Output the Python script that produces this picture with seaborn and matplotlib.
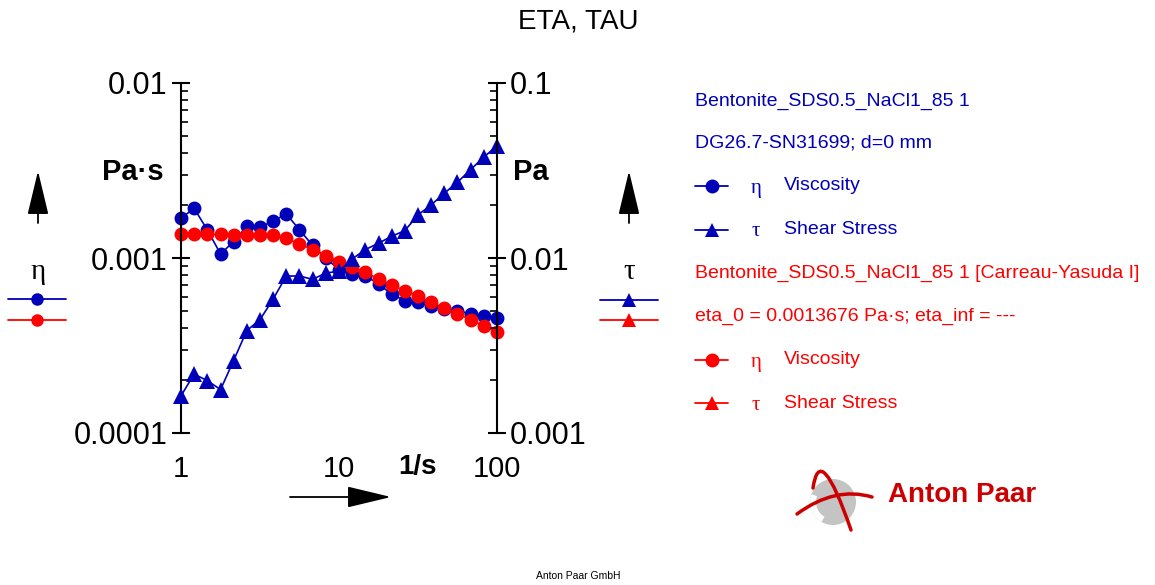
import numpy as np
import pandas as pd
import seaborn as sns
import matplotlib
matplotlib.use("Agg")
import matplotlib.pyplot as plt
from matplotlib import ticker
from matplotlib.path import Path
from matplotlib.patches import PathPatch, Circle, Wedge

# ---- measured data -------------------------------------------------------
shear_rate = [1.0, 1.21, 1.47, 1.78, 2.15, 2.61, 3.16, 3.83, 4.64, 5.62,
              6.81, 8.25, 10.0, 12.1, 14.7, 17.8, 21.5, 26.1, 31.6, 38.3,
              46.4, 56.2, 68.1, 82.5, 100.0]

eta_measured = [0.001686, 0.001923, 0.001445, 0.001054, 0.001242, 0.001517,
                0.001497, 0.001627, 0.001784, 0.001451, 0.001179, 0.001000,
                0.000858, 0.000810, 0.000792, 0.000710, 0.000623, 0.000570,
                0.000558, 0.000534, 0.000511, 0.000500, 0.000479, 0.000468,
                0.000454]

tau_measured = [0.00163, 0.00217, 0.00199, 0.00177, 0.00259, 0.00385,
                0.00444, 0.00583, 0.00789, 0.00789, 0.00755, 0.00821,
                0.00840, 0.00987, 0.01118, 0.01215, 0.01330, 0.01433,
                0.01762, 0.02010, 0.02344, 0.02710, 0.03200, 0.03770,
                0.04380]

# Carreau-Yasuda fit of the viscosity
eta_fit = [0.001367, 0.001366, 0.001365, 0.001363, 0.001360, 0.001357,
           0.001353, 0.001345, 0.001296, 0.001202, 0.001115, 0.001030,
           0.000952, 0.000885, 0.000829, 0.000759, 0.000704, 0.000650,
           0.000604, 0.000558, 0.000516, 0.000479, 0.000444, 0.000410,
           0.000376]

x_ticks = [1, 10, 100]
x_tick_labels = ["1", "10", "100"]
eta_ticks = [1e-4, 1e-3, 1e-2]
eta_tick_labels = ["0.0001", "0.001", "0.01"]
tau_ticks = [1e-3, 1e-2, 1e-1]
tau_tick_labels = ["0.001", "0.01", "0.1"]

legend_rows = [
    ("Bentonite_SDS0.5_NaCl1_85 1", None, None),
    ("DG26.7-SN31699; d=0 mm", None, None),
    ("Viscosity", "o", "η"),
    ("Shear Stress", "^", "τ"),
    ("Bentonite_SDS0.5_NaCl1_85 1 [Carreau-Yasuda I]", None, None),
    ("eta_0 = 0.0013676 Pa·s; eta_inf = ---", None, None),
    ("Viscosity", "o", "η"),
    ("Shear Stress", "^", "τ"),
]

BLUE = "#0000B8"
RED = "#FF0000"

df = pd.DataFrame({"rate": shear_rate, "eta": eta_measured,
                   "tau": tau_measured, "fit": eta_fit})

# ---- style ---------------------------------------------------------------
sns.set_style("white")
plt.rcParams["font.family"] = ["Liberation Sans", "DejaVu Sans"]
plt.rcParams["axes.linewidth"] = 1.5
for k in ("text.color", "xtick.color", "ytick.color", "axes.labelcolor",
          "axes.edgecolor"):
    plt.rcParams[k] = "black"

W, H = 1155, 585
fig = plt.figure(figsize=(W / 100, H / 100), dpi=100)

def fx(px):
    return px / W

def fy(py):
    return 1 - py / H

x0, x1, y0, y1 = 181, 497, 83, 433
ax = fig.add_axes([fx(x0), fy(y1), fx(x1 - x0), (y1 - y0) / H])
ax.set_xscale("log")
ax.set_yscale("log")
ax.patch.set_alpha(0)

mk = dict(linewidth=1.2, markeredgewidth=0, clip_on=False)
sns.lineplot(data=df, x="rate", y="eta", ax=ax, color=BLUE, marker="o",
             markersize=10, **mk)
sns.lineplot(data=df, x="rate", y="fit", ax=ax, color=RED, marker="o",
             markersize=10, **mk)

ax2 = ax.twinx()
ax2.set_yscale("log")
sns.lineplot(data=df, x="rate", y="tau", ax=ax2, color=BLUE, marker="^",
             markersize=11, **mk)

ax.set_xlim(1, 100)
ax.set_ylim(1e-4, 1e-2)
ax2.set_ylim(1e-3, 1e-1)

for a in (ax, ax2):
    a.set_xlabel("")
    a.set_ylabel("")
    a.spines["top"].set_visible(False)
    a.spines["bottom"].set_visible(False)
    a.grid(False)
ax.spines["right"].set_visible(False)
ax2.spines["left"].set_visible(False)

ax.set_xticks(x_ticks)
ax.set_xticklabels(x_tick_labels)
ax.xaxis.set_minor_formatter(ticker.NullFormatter())
ax.tick_params(axis="x", which="both", length=0, pad=16, labelsize=21)

ax.set_yticks(eta_ticks)
ax.set_yticklabels(eta_tick_labels)
ax2.set_yticks(tau_ticks)
ax2.set_yticklabels(tau_tick_labels)
for a in (ax, ax2):
    a.yaxis.set_minor_locator(ticker.LogLocator(base=10, subs=np.arange(2, 10)))
    a.yaxis.set_minor_formatter(ticker.NullFormatter())
    a.tick_params(axis="y", which="major", direction="inout", length=13,
                  width=1.5, labelsize=22, pad=3)
    a.tick_params(axis="y", which="minor", direction="in", length=5,
                  width=1.2)

# ---- overlay in pixel coordinates for annotations ------------------------
deco = fig.add_axes([0, 0, 1, 1])
deco.set_xlim(0, W)
deco.set_ylim(H, 0)
deco.axis("off")
deco.patch.set_alpha(0)

deco.text(578, 22, "ETA, TAU", ha="center", va="center", fontsize=20)
deco.text(133, 172, "Pa·s", ha="center", va="center", fontsize=21,
          fontweight="bold")
deco.text(531, 172, "Pa", ha="center", va="center", fontsize=21,
          fontweight="bold")
deco.text(418, 467, "1/s", ha="center", va="center", fontsize=20,
          fontweight="bold")
deco.text(578, 576, "Anton Paar GmbH", ha="center", va="center", fontsize=7.5)

arrow = dict(arrowstyle="-|>,head_length=1.25,head_width=0.3", color="black",
             lw=1.3, mutation_scale=22, shrinkA=0, shrinkB=0)
deco.annotate("", xy=(391, 497), xytext=(290, 497), arrowprops=arrow)
deco.annotate("", xy=(38, 171), xytext=(38, 223), arrowprops=arrow)
deco.annotate("", xy=(629, 171), xytext=(629, 223), arrowprops=arrow)

deco.text(38, 272, "η", ha="center", va="center", fontsize=21,
          family=["Liberation Serif", "DejaVu Serif"])
deco.text(629, 272, "τ", ha="center", va="center", fontsize=21,
          family=["Liberation Serif", "DejaVu Serif"])


def key(xa, xb, y, color, marker, size=9):
    deco.plot([xa, (xa + xb) / 2, xb], [y, y, y], color=color, lw=1.3,
              marker=marker, markevery=[1], markersize=size,
              markeredgewidth=0)


key(8, 66, 299, BLUE, "o")
key(8, 66, 320, RED, "o")
key(600, 658, 300, BLUE, "^", size=10)
key(600, 658, 320, RED, "^", size=10)

# legend listing on the right
row_y = [101, 143, 186, 230, 273, 316, 360, 403]
for i, ((label, marker, sym), yy) in enumerate(zip(legend_rows, row_y)):
    color = BLUE if i < 4 else RED
    if marker is None:
        deco.text(695, yy, label, ha="left", va="center", fontsize=14,
                  color=color)
    else:
        key(695, 728, yy, color, marker, size=10)
        deco.text(756, yy + 2, sym, ha="center", va="center", fontsize=15,
                  color=color, family=["Liberation Serif", "DejaVu Serif"])
        deco.text(784, yy, label, ha="left", va="center", fontsize=14,
                  color=color)

# company logo
LOGO_RED = "#CC0000"
deco.add_patch(Circle((833, 502), 23, facecolor="#C4C4C4", edgecolor="none"))
deco.add_patch(Wedge((833, 502), 23, 120, 200, width=6, facecolor="white",
                     edgecolor="none"))
swoosh1 = Path([(797, 514), (835, 486), (872, 497)],
               [Path.MOVETO, Path.CURVE3, Path.CURVE3])
swoosh2 = Path([(813, 488), (820, 440), (851, 530)],
               [Path.MOVETO, Path.CURVE3, Path.CURVE3])
for p in (swoosh1, swoosh2):
    deco.add_patch(PathPatch(p, facecolor="none", edgecolor=LOGO_RED, lw=2.5,
                             capstyle="round"))
deco.text(888, 495, "Anton Paar", ha="left", va="center", fontsize=20,
          fontweight="bold", color=LOGO_RED)

fig.savefig("out.png", dpi=100)
